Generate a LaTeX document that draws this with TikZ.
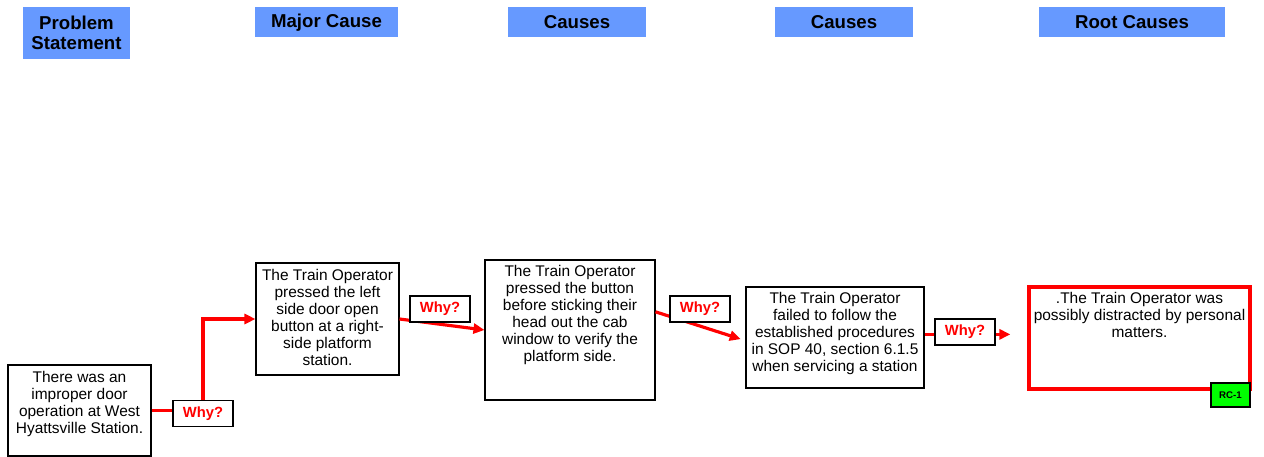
\documentclass[tikz,border=0pt]{standalone}
\usepackage{fontspec}
\setmainfont{Liberation Sans}
\usetikzlibrary{arrows.meta}
\definecolor{hdrblue}{RGB}{102,153,255}
\definecolor{rcgreen}{RGB}{0,255,0}
\newcommand{\boxtext}[3]{\parbox[c][#2][t]{#1}{\centering #3}}

\tikzset{
	header/.style={fill=hdrblue, inner sep=0pt, align=center, font=\fontsize{10.6}{11.5}\selectfont\bfseries},
	cause/.style={draw=black, line width=0.6pt, fill=white, inner sep=0pt, font=\fontsize{8.8}{9.7}\selectfont},
	why/.style={draw=black, line width=0.6pt, fill=white, text=red, inner sep=0pt, minimum width=12mm, minimum height=5.2mm, font=\fontsize{8.4}{9}\selectfont\bfseries},
	conn/.style={draw=red, line width=1.8pt, -{Triangle[length=2.2mm,width=2mm]}},
}

\begin{document}
\begin{tikzpicture}[x=0.2mm, y=-0.2mm]
	\useasboundingbox (0,0) rectangle (1264,457);

	% column headers
	\node[header, minimum width=21.4mm, minimum height=10.4mm] (hps)    at (76.5, 33) {Problem\\Statement};
	\node[header, minimum width=28.6mm, minimum height=6mm]    (hmajor) at (326.5, 22.5) {Major Cause};
	\node[header, minimum width=27.6mm, minimum height=6mm]    (hcause) at (577, 22.5)   {Causes};
	\node[header, minimum width=27.6mm, minimum height=6mm]    (hsub)   at (844, 22.5)   {Causes};
	\node[header, minimum width=37.2mm, minimum height=6mm]    (hroot)  at (1132, 22.5)  {Root Causes};

	% the chain
	\node[cause, minimum width=28.6mm, minimum height=18.2mm] (ps) at (79.5, 410.5)
		{\boxtext{27.6mm}{15.8mm}{There was an\\improper door\\operation at West\\Hyattsville Station.}};
	\node[cause, minimum width=28.6mm, minimum height=22.4mm] (major) at (327.5, 319)
		{\boxtext{27.6mm}{19.8mm}{The Train Operator\\pressed the left\\side door open\\button at a right-\\side platform\\station.}};
	\node[cause, minimum width=34mm, minimum height=28mm] (cause) at (570, 330)
		{\boxtext{33mm}{26mm}{The Train Operator\\pressed the button\\before sticking their\\head out the cab\\window to verify the\\platform side.}};
	\node[cause, minimum width=35.6mm, minimum height=20.2mm] (sub) at (835, 337.5)
		{\boxtext{34.6mm}{18.2mm}{The Train Operator\\failed to follow the\\established procedures\\in SOP 40, section 6.1.5\\when servicing a station}};
	\node[cause, draw=red, line width=1.8pt, minimum width=44.2mm, minimum height=20.4mm] (root) at (1139.5, 338)
		{\boxtext{43.2mm}{18.2mm}{.The Train Operator was\\possibly distracted by personal\\matters.}};
	\node[draw=black, line width=0.6pt, fill=rcgreen, inner sep=0pt, minimum width=7.8mm, minimum height=4.8mm,
		font=\fontsize{5.5}{6}\selectfont\bfseries] (rc) at (1230.5, 395) {RC-1};

	\node[why] (why1) at (203, 413.5) {Why?};

	\draw[conn,-] (ps.east) -- (ps.east -| why1.west);
	\draw[conn] (why1.north) |- (major.west);
	\draw[conn] (major.east) -- (cause.west);
	\draw[conn, shorten >=1mm] (cause.12) -- (sub.182);
	\draw[conn, shorten >=3.4mm] (sub.2) -- (sub.2 -| root.west);

	\node[why] (why2) at (440, 309) {Why?};
	\node[why] (why3) at (700, 309) {Why?};
	\node[why] (why4) at (965, 332) {Why?};
\end{tikzpicture}
\end{document}
